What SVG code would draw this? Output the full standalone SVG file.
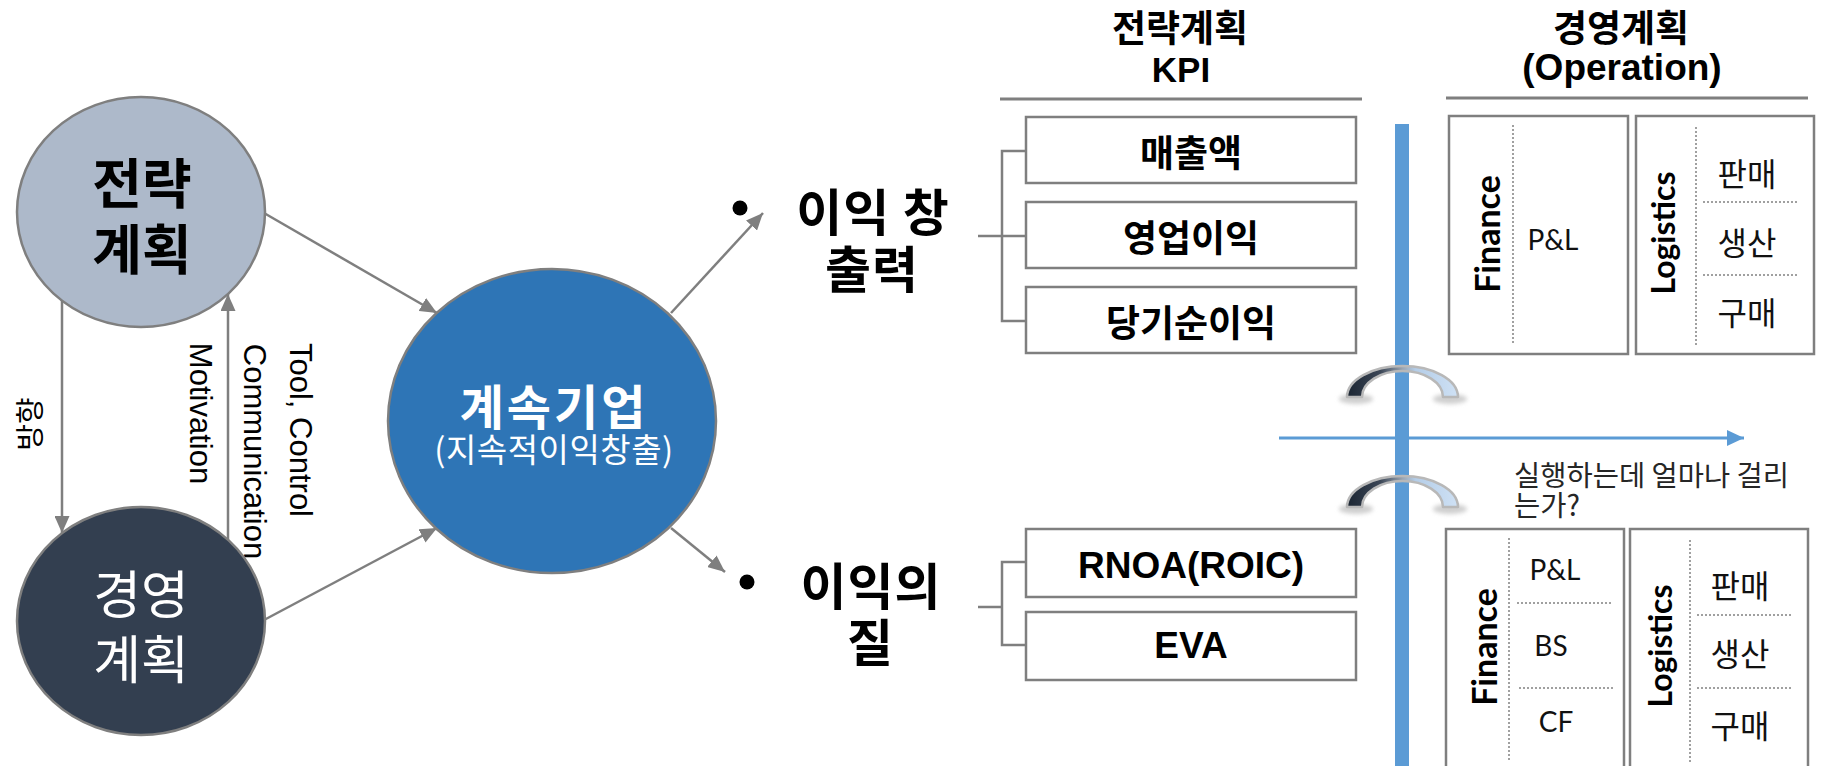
<svg xmlns="http://www.w3.org/2000/svg" width="1823" height="766" viewBox="0 0 1823 766">
  <defs>
    <style>
      .conn { stroke: #7F7F7F; stroke-width: 2.5; fill: none; }
      .box { fill: #FFFFFF; stroke: #7F7F7F; stroke-width: 2.5; }
      .rule { stroke: #7F7F7F; stroke-width: 3; }
      .dots { stroke: #A0A0A0; stroke-width: 2; stroke-dasharray: 2 2; fill: none; }
      .ko { font-family: "Noto Sans CJK KR", "Liberation Sans", sans-serif; }
      .lat { font-family: "Liberation Sans", "Noto Sans CJK KR", sans-serif; }
      .cal { font-family: Lato, "Liberation Sans", sans-serif; }
      .b { font-weight: bold; }
      .mid { text-anchor: middle; }
      .kpi { font-family: "Liberation Sans", "Noto Sans CJK KR", sans-serif; font-weight: bold; font-size: 37px; text-anchor: middle; fill: #000; }
      .cell { font-family: "Noto Sans CJK KR", sans-serif; font-size: 32px; text-anchor: middle; fill: #111; }
      .fin { font-family: Lato, "Liberation Sans", sans-serif; font-size: 28px; text-anchor: middle; fill: #111; }
    </style>
    <marker id="arrGray" markerUnits="userSpaceOnUse" markerWidth="17" markerHeight="15" refX="17" refY="7.5" orient="auto">
      <path d="M0,0 L17,7.5 L0,15 Z" fill="#7F7F7F"/>
    </marker>
    <marker id="arrBlue" markerUnits="userSpaceOnUse" markerWidth="17" markerHeight="16" refX="17" refY="8" orient="auto">
      <path d="M0,0 L17,8 L0,16 Z" fill="#5B9BD5"/>
    </marker>
    <linearGradient id="archFill" x1="0" y1="0" x2="1" y2="0">
      <stop offset="0" stop-color="#1C2633"/>
      <stop offset="0.3" stop-color="#3B4656"/>
      <stop offset="0.5" stop-color="#9AA5B2"/>
      <stop offset="0.62" stop-color="#B4CDE8"/>
      <stop offset="1" stop-color="#CFE1F4"/>
    </linearGradient>
    <filter id="soft" x="-50%" y="-100%" width="200%" height="300%">
      <feGaussianBlur stdDeviation="2"/>
    </filter>
  </defs>

  <!-- connectors -->
  <g id="connectors">
    <line class="conn" x1="264" y1="213" x2="437" y2="313" marker-end="url(#arrGray)"/>
    <line class="conn" x1="264" y1="620" x2="437" y2="528" marker-end="url(#arrGray)"/>
    <line class="conn" x1="62" y1="300" x2="62" y2="533" marker-end="url(#arrGray)"/>
    <line class="conn" x1="228" y1="540" x2="228" y2="294" marker-end="url(#arrGray)"/>
    <line class="conn" x1="671" y1="313" x2="763" y2="213" marker-end="url(#arrGray)"/>
    <line class="conn" x1="671" y1="528" x2="725" y2="572" marker-end="url(#arrGray)"/>
    <!-- KPI brackets -->
    <path class="conn" d="M978,236 H1002 M1026,151 H1002 V321 H1026 M1002,236 H1026"/>
    <path class="conn" d="M978,607 H1002 M1026,562 H1002 V645 H1026"/>
  </g>

  <!-- edge labels -->
  <g id="edge-labels" fill="#000">
    <text class="ko mid" font-size="29" transform="translate(41,424) rotate(-90)">방향</text>
    <text class="lat mid" font-size="31" transform="translate(190,413.5) rotate(90)">Motivation</text>
    <text class="lat mid" font-size="31" transform="translate(290,430) rotate(90)">Tool, Control</text>
    <text class="lat mid" font-size="31" transform="translate(244,451.5) rotate(90)">Communication</text>
  </g>

  <!-- strategy plan -->
  <g id="node-strategy">
    <ellipse cx="141" cy="212" rx="124" ry="115" fill="#ADB9CA" stroke="#7F7F7F" stroke-width="2.5"/>
    <text class="ko b mid" font-size="54" x="142" y="204" fill="#000">전략</text>
    <text class="ko b mid" font-size="54" x="142" y="270" fill="#000">계획</text>
  </g>

  <!-- operation plan -->
  <g id="node-operation">
    <ellipse cx="141" cy="621" rx="124" ry="114" fill="#333F50" stroke="#7F7F7F" stroke-width="2.5"/>
    <text class="ko mid" font-size="52" x="141" y="614" fill="#FFFFFF">경영</text>
    <text class="ko mid" font-size="52" x="141" y="679" fill="#FFFFFF">계획</text>
  </g>

  <!-- going concern -->
  <g id="node-going-concern">
    <ellipse cx="552" cy="421" rx="164" ry="152" fill="#2E75B6" stroke="#7F7F7F" stroke-width="2.5"/>
    <text class="ko b mid" font-size="48" letter-spacing="3" x="554" y="425" fill="#FFFFFF">계속기업</text>
    <text class="ko mid" font-size="33" letter-spacing="0.5" x="554" y="462" fill="#FFFFFF">(지속적이익창출)</text>
  </g>

  <!-- bullet: profit generation -->
  <g id="node-profit-generation">
    <circle cx="740" cy="208" r="7.5" fill="#000"/>
    <text class="ko b mid" font-size="50" letter-spacing="1" x="873" y="231" fill="#000">이익 창</text>
    <text class="ko b mid" font-size="50" letter-spacing="1" x="872" y="288" fill="#000">출력</text>
  </g>

  <!-- bullet: profit quality -->
  <g id="node-profit-quality">
    <circle cx="747" cy="582" r="7.5" fill="#000"/>
    <text class="ko b mid" font-size="50" letter-spacing="1" x="871" y="605" fill="#000">이익의</text>
    <text class="ko b mid" font-size="50" x="870" y="661" fill="#000">질</text>
  </g>

  <!-- KPI column -->
  <g id="header-kpi">
    <text class="ko b mid" font-size="37" x="1180" y="42" fill="#000">전략계획</text>
    <text class="lat b mid" font-size="35" x="1181" y="82" fill="#000">KPI</text>
    <line class="rule" x1="1000" y1="99" x2="1362" y2="99"/>
  </g>
  <g id="kpi-sales">
    <rect class="box" x="1026" y="117" width="330" height="66"/>
    <text class="kpi" x="1191" y="167">매출액</text>
  </g>
  <g id="kpi-operating-profit">
    <rect class="box" x="1026" y="202" width="330" height="66"/>
    <text class="kpi" x="1191" y="252">영업이익</text>
  </g>
  <g id="kpi-net-income">
    <rect class="box" x="1026" y="287" width="330" height="66"/>
    <text class="kpi" x="1191" y="337">당기순이익</text>
  </g>
  <g id="kpi-rnoa">
    <rect class="box" x="1026" y="529" width="330" height="68"/>
    <text class="kpi" x="1191" y="578">RNOA(ROIC)</text>
  </g>
  <g id="kpi-eva">
    <rect class="box" x="1026" y="612" width="330" height="68"/>
    <text class="kpi" x="1191" y="658">EVA</text>
  </g>

  <!-- time axis and divider -->
  <g id="timeline">
    <line x1="1279" y1="438" x2="1744" y2="438" stroke="#5B9BD5" stroke-width="3" marker-end="url(#arrBlue)"/>
    <rect x="1395" y="124" width="14" height="650" fill="#5B9BD5"/>
    <g id="bridge-upper">
      <ellipse cx="1356" cy="399" rx="17" ry="5" fill="#CFCFCF" filter="url(#soft)"/>
      <ellipse cx="1450" cy="399" rx="17" ry="5" fill="#CFCFCF" filter="url(#soft)"/>
      <path d="M1347,397 A55.5,31 0 0 1 1458,397 L1443,397 A40.5,26 0 0 0 1362,397 Z" fill="url(#archFill)" stroke="#B8B8B8" stroke-width="2.5" stroke-linejoin="round"/>
    </g>
    <g id="bridge-lower">
      <ellipse cx="1356" cy="509" rx="17" ry="5" fill="#CFCFCF" filter="url(#soft)"/>
      <ellipse cx="1450" cy="509" rx="17" ry="5" fill="#CFCFCF" filter="url(#soft)"/>
      <path d="M1347,507 A55.5,31 0 0 1 1458,507 L1443,507 A40.5,26 0 0 0 1362,507 Z" fill="url(#archFill)" stroke="#B8B8B8" stroke-width="2.5" stroke-linejoin="round"/>
    </g>
    <text class="ko" font-size="28.5" x="1514" y="486" fill="#262626">실행하는데 얼마나 걸리</text>
    <text class="ko" font-size="28.5" x="1514" y="516" fill="#262626">는가?</text>
  </g>

  <!-- operation column -->
  <g id="header-operation">
    <text class="ko b mid" font-size="37" x="1621" y="42" fill="#000">경영계획</text>
    <text class="lat b mid" font-size="37" x="1622" y="80" fill="#000">(Operation)</text>
    <line class="rule" x1="1446" y1="98" x2="1808" y2="98"/>
  </g>
  <g id="finance-upper">
    <rect class="box" x="1449" y="116" width="179" height="238"/>
    <line class="dots" x1="1513" y1="125" x2="1513" y2="343"/>
    <text class="cal b mid" font-size="34" fill="#000" transform="translate(1500,234) rotate(-90)">Finance</text>
    <text class="fin" x="1553" y="250">P&amp;L</text>
  </g>
  <g id="logistics-upper">
    <rect class="box" x="1636" y="116" width="178" height="238"/>
    <line class="dots" x1="1696" y1="127" x2="1696" y2="347"/>
    <text class="cal b mid" font-size="32" fill="#000" transform="translate(1675,233) rotate(-90)">Logistics</text>
    <text class="cell" x="1747" y="186">판매</text>
    <line class="dots" x1="1703" y1="202" x2="1797" y2="202"/>
    <text class="cell" x="1747" y="255">생산</text>
    <line class="dots" x1="1703" y1="275" x2="1797" y2="275"/>
    <text class="cell" x="1747" y="325">구매</text>
  </g>
  <g id="finance-lower">
    <rect class="box" x="1446" y="529" width="178" height="260"/>
    <line class="dots" x1="1509" y1="538" x2="1509" y2="760"/>
    <text class="cal b mid" font-size="34" fill="#000" transform="translate(1497,647) rotate(-90)">Finance</text>
    <text class="fin" x="1555" y="580">P&amp;L</text>
    <line class="dots" x1="1517" y1="603" x2="1611" y2="603"/>
    <text class="fin" x="1551" y="656">BS</text>
    <line class="dots" x1="1519" y1="688" x2="1613" y2="688"/>
    <text class="fin" x="1556" y="732">CF</text>
  </g>
  <g id="logistics-lower">
    <rect class="box" x="1630" y="529" width="178" height="260"/>
    <line class="dots" x1="1690" y1="540" x2="1690" y2="762"/>
    <text class="cal b mid" font-size="32" fill="#000" transform="translate(1672,646) rotate(-90)">Logistics</text>
    <text class="cell" x="1740" y="598">판매</text>
    <line class="dots" x1="1697" y1="615" x2="1791" y2="615"/>
    <text class="cell" x="1740" y="666">생산</text>
    <line class="dots" x1="1697" y1="688" x2="1791" y2="688"/>
    <text class="cell" x="1740" y="738">구매</text>
  </g>
</svg>
